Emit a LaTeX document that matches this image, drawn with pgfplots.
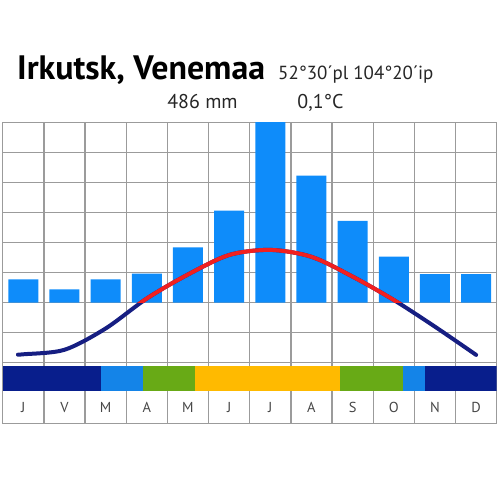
\documentclass[border=0pt]{standalone}
\usepackage{fontspec}
\setmainfont{PT Sans}
\usepackage{pgfplots}
\pgfplotsset{compat=1.18}
\definecolor{barc}{RGB}{14,140,250}
\definecolor{navyband}{RGB}{8,30,140}
\definecolor{lblue}{RGB}{20,132,232}
\definecolor{grn}{RGB}{104,170,22}
\definecolor{yel}{RGB}{255,186,0}
\definecolor{tnavy}{RGB}{22,30,130}
\definecolor{tred}{RGB}{240,32,32}
\definecolor{gridc}{RGB}{155,155,155}
\begin{document}
\begin{tikzpicture}
\useasboundingbox (0bp,0bp) rectangle (500bp,500bp);
\node[anchor=base west, inner sep=0, font=\bfseries\fontsize{34}{34}\selectfont] at (17bp,420bp) {Irkutsk, Venemaa};
\node[anchor=base west, inner sep=0, font=\fontsize{19}{19}\selectfont, text=black!85] at (278bp,420.7bp) {52°30´pl 104°20´ip};
\node[anchor=base, inner sep=0, font=\fontsize{20}{20}\selectfont, text=black!85] at (202.5bp,391.7bp) {486 mm};
\node[anchor=base, inner sep=0, font=\fontsize{20}{20}\selectfont, text=black!85] at (320.5bp,391.7bp) {0,1°C};
% precipitation axis
\begin{axis}[at={(2.7bp,76.7bp)}, anchor=south west, scale only axis,
  width=494bp, height=300.6bp,
  xmin=-0.5, xmax=11.5, ymin=-80.4, ymax=120,
  ytick={-40,-20,...,100}, yticklabels={},
  xtick={0,...,11}, xticklabels={J,V,M,A,M,J,J,A,S,O,N,D},
  minor xtick={-0.5,0.5,...,11.5},
  ymajorgrids, xminorgrids,
  major tick length=0, minor tick length=0,
  axis line style={gridc, line width=1.3bp},
  grid style={gridc, line width=1.3bp},
  minor grid style={gridc, line width=1.3bp},
  xticklabel style={anchor=center, yshift=15.5bp, font=\fontsize{14.5}{14.5}\selectfont, text=black!72},
  ybar, bar width=30bp]
\addplot[fill=barc, draw=none] coordinates {
(0,15.6) (1,8.9) (2,15.6) (3,19.3) (4,36.9) (5,61.3)
(6,121) (7,84.7) (8,54.5) (9,30.7) (10,19.1) (11,19.1)};
\end{axis}
% temperature axis
\begin{axis}[at={(2.7bp,76.7bp)}, anchor=south west, scale only axis,
  width=494bp, height=300.6bp,
  xmin=-0.5, xmax=11.5, ymin=-40.2, ymax=60, hide axis]
\addplot[fill=navyband, draw=none] coordinates {(-0.5,-21.1) (1.88,-21.1) (1.88,-29.45) (-0.5,-29.45)};
\addplot[fill=lblue, draw=none] coordinates {(1.88,-21.1) (2.90,-21.1) (2.90,-29.45) (1.88,-29.45)};
\addplot[fill=grn, draw=none] coordinates {(2.90,-21.1) (4.17,-21.1) (4.17,-29.45) (2.90,-29.45)};
\addplot[fill=yel, draw=none] coordinates {(4.17,-21.1) (7.70,-21.1) (7.70,-29.45) (4.17,-29.45)};
\addplot[fill=grn, draw=none] coordinates {(7.70,-21.1) (9.22,-21.1) (9.22,-29.45) (7.70,-29.45)};
\addplot[fill=lblue, draw=none] coordinates {(9.22,-21.1) (9.77,-21.1) (9.77,-29.45) (9.22,-29.45)};
\addplot[fill=navyband, draw=none] coordinates {(9.77,-21.1) (11.5,-21.1) (11.5,-29.45) (9.77,-29.45)};
\addplot[tnavy, line width=4bp, smooth, line cap=round] coordinates {
(-0.13,-17.3) (0,-17.2) (1,-15.7) (2,-8.6) (3,1.4) (4,9.4) (5,15.9) (6,17.6) (7,15.3) (8,8.7) (9,0.9) (10,-8) (11,-17.4)};
\begin{scope}
\clip (axis cs:-1,0) rectangle (axis cs:12,60);
\addplot[tred, line width=4bp, smooth] coordinates {
(-0.13,-17.3) (0,-17.2) (1,-15.7) (2,-8.6) (3,1.4) (4,9.4) (5,15.9) (6,17.6) (7,15.3) (8,8.7) (9,0.9) (10,-8) (11,-17.4)};
\end{scope}
\end{axis}
\end{tikzpicture}
\end{document}
